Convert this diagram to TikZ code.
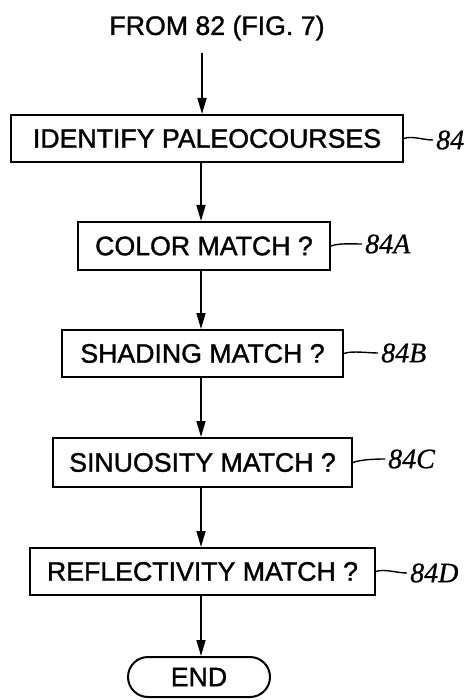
\documentclass[tikz,border=0pt]{standalone}
\usepackage{fontspec}
\setmainfont[FakeBold=1.3]{Liberation Sans}
\newfontfamily\refnum[FakeBold=0.8]{Liberation Serif}
\usetikzlibrary{arrows.meta}
\begin{document}
\begin{tikzpicture}[x=1pt,y=-1pt,
  every node/.style={font=\fontsize{26.7}{30}\selectfont},
  stepbox/.style={draw, line width=2pt, inner sep=0pt},
  endbox/.style={draw, line width=2pt, inner sep=0pt, rounded corners=20pt},
  flow/.style={line width=1.6pt, -{Triangle[length=16pt,width=9pt]}},
  leader/.style={line width=1.4pt},
  refl/.style={anchor=west, inner sep=3pt, font=\refnum\itshape\fontsize{28}{30}\selectfont}]
\useasboundingbox (0,0) rectangle (466,700);

% incoming reference and the process steps
\node (from) at (217,28) {FROM 82 (FIG. 7)};
\coordinate (spine) at (201,0);
\node[stepbox, minimum width=392pt, minimum height=47pt] (b1) at (207,138.5) {IDENTIFY PALEOCOURSES};
\node[stepbox, minimum width=252pt, minimum height=48pt] (b2) at (204,246) {COLOR MATCH ?};
\node[stepbox, minimum width=281pt, minimum height=47pt] (b3) at (202.5,353.5) {SHADING MATCH ?};
\node[stepbox, minimum width=299pt, minimum height=49pt] (b4) at (202.5,462.5) {SINUOSITY MATCH ?};
\node[stepbox, minimum width=345pt, minimum height=47pt] (b5) at (202.5,571.5) {REFLECTIVITY MATCH ?};
\node[endbox, minimum width=142pt, minimum height=40pt] (e) at (199,677) {END};

% flow arrows
\coordinate (top) at (202,53);
\draw[flow] (top) -- (top |- b1.north);
\draw[flow] (b1.south -| spine) -- (b2.north -| spine);
\draw[flow] (b2.south -| spine) -- (b3.north -| spine);
\draw[flow] (b3.south -| spine) -- (b4.north -| spine);
\draw[flow] (b4.south -| spine) -- (b5.north -| spine);
\draw[flow] (b5.south -| spine) -- (e.north -| spine);

% reference numerals with leader lines
\node[refl] (r1) at (433,140) {84};
\node[refl] (r2) at (362,244) {84A};
\node[refl] (r3) at (378,353) {84B};
\node[refl] (r4) at (385,459) {84C};
\node[refl] (r5) at (407,573) {84D};
\draw[leader] (b1.east) .. controls +(8,-3) and +(-10,0) .. (r1.west);
\draw[leader] (b2.east) .. controls +(8,-3) and +(-10,0) .. (r2.west);
\draw[leader] (b3.east) .. controls +(8,-3) and +(-10,0) .. (r3.west);
\draw[leader] (b4.east) .. controls +(8,-3) and +(-10,0) .. (r4.west);
\draw[leader] (b5.east) .. controls +(8,-3) and +(-10,0) .. (r5.west);
\end{tikzpicture}
\end{document}
